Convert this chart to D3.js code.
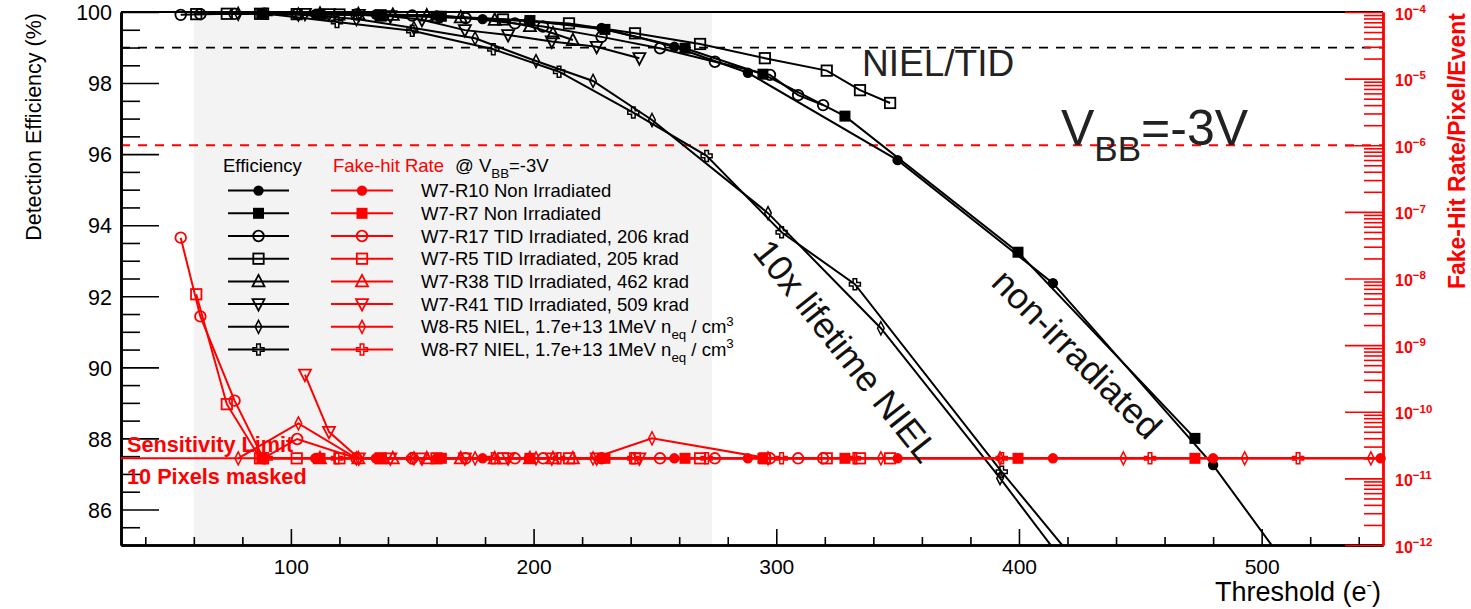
<!DOCTYPE html>
<html>
<head>
<meta charset="utf-8">
<script src="https://cdn.jsdelivr.net/npm/d3@7"></script>
<style>
  html, body { margin: 0; padding: 0; background: #fff; }
  svg { display: block; font-family: "Liberation Sans", Arial, Helvetica, sans-serif; }
</style>
</head>
<body>
<svg id="chart" width="1471" height="609"></svg>
<script>
// ---------------- data ----------------
// thresholds (e-), detection efficiency (%), fake-hit rate (/pixel/event)
const thrW7R10 = [88, 110, 135, 160, 179, 198, 228, 258, 288.3, 350, 414, 480, 549];
const effW7R10 = [99.95, 99.94, 99.93, 99.9, 99.8, 99.75, 99.55, 99.02, 98.29, 95.83, 92.37, 87.25, 80.8];
const fhrW7R10 = [2e-11, 2e-11, 2e-11, 2e-11, 2e-11, 2e-11, 2e-11, 2e-11, 2e-11, 2e-11, 2e-11, 2e-11, 2e-11];

const thrW7R7 = [88, 112, 137, 162, 198.5, 229.4, 262.4, 294.5, 328.3, 399.6, 472.5];
const effW7R7 = [99.95, 99.94, 99.92, 99.88, 99.76, 99.51, 98.98, 98.25, 97.07, 93.24, 88.0];
const fhrW7R7 = [2e-11, 2e-11, 2e-11, 2e-11, 2e-11, 2e-11, 2e-11, 2e-11, 2e-11, 2e-11, 2e-11];

const thrW7R17 = [54.6, 62.7, 76.8, 88.6, 102.6, 127, 150, 172, 192.3, 203.9, 228, 252.1, 274.7, 297.4, 309, 319.3];
const effW7R17 = [99.92, 99.94, 99.95, 99.95, 99.94, 99.93, 99.9, 99.83, 99.68, 99.59, 99.3, 98.98, 98.6, 98.23, 97.66, 97.38];
const fhrW7R17 = [4.1e-8, 2.7e-9, 1.47e-10, 2e-11, 3.9e-11, 2e-11, 2e-11, 2e-11, 2e-11, 2e-11, 2e-11, 2e-11, 2e-11, 2e-11, 2e-11, 2e-11];

const thrW7R5 = [61, 73.6, 87.3, 102.4, 120, 137, 160, 187.4, 214.6, 241.8, 268.6, 295.3, 320.8, 334.5, 346.9];
const effW7R5 = [99.94, 99.95, 99.95, 99.94, 99.93, 99.9, 99.86, 99.79, 99.68, 99.4, 99.1, 98.7, 98.35, 97.8, 97.44];
const fhrW7R5 = [5.8e-9, 1.3e-10, 2e-11, 2e-11, 2e-11, 2e-11, 2e-11, 2e-11, 2e-11, 2e-11, 2e-11, 2e-11, 2e-11, 2e-11, 2e-11];

const thrW7R38 = [112, 127.8, 142, 156, 170, 184, 198.5, 208, 216.2];
const effW7R38 = [99.95, 99.94, 99.92, 99.9, 99.85, 99.78, 99.6, 99.4, 99.21];
const fhrW7R38 = [2e-11, 2e-11, 2e-11, 2e-11, 2e-11, 2e-11, 2e-11, 2e-11, 2e-11];

const thrW7R41 = [105.8, 115.7, 128, 141, 154, 171.7, 189.5, 207.5, 226, 243.6];
const effW7R41 = [99.95, 99.94, 99.92, 99.88, 99.78, 99.49, 99.35, 99.17, 99.02, 98.7];
const fhrW7R41 = [3.6e-10, 5e-11, 2e-11, 2e-11, 2e-11, 2e-11, 2e-11, 2e-11, 2e-11, 2e-11];

const thrW8R5 = [78.3, 103.1, 127, 150.7, 175.9, 201, 224.5, 248.8, 296.6, 343.1, 392.2, 443, 493, 545];
const effW8R5 = [99.95, 99.93, 99.8, 99.55, 99.26, 98.62, 98.06, 96.96, 94.34, 91.1, 86.88, 82.3, 77.8, 73.0];
const fhrW8R5 = [2e-11, 6.7e-11, 2e-11, 2e-11, 2e-11, 2e-11, 2e-11, 4e-11, 2e-11, 2e-11, 2e-11, 2e-11, 2e-11, 2e-11];

const thrW8R7 = [90, 119, 150, 183.4, 210.5, 241.1, 271.3, 302.2, 332.4, 392.9, 454, 515];
const effW8R7 = [99.95, 99.72, 99.47, 98.95, 98.32, 97.17, 95.95, 93.8, 92.34, 87.06, 82.0, 77.0];
const fhrW8R7 = [2e-11, 2e-11, 2e-11, 2e-11, 2e-11, 2e-11, 2e-11, 2e-11, 2e-11, 2e-11, 2e-11, 2e-11];

const seriesLabels = [
  "W7-R10 Non Irradiated",
  "W7-R7 Non Irradiated",
  "W7-R17 TID Irradiated, 206 krad",
  "W7-R5 TID Irradiated, 205 krad",
  "W7-R38 TID Irradiated, 462 krad",
  "W7-R41 TID Irradiated, 509 krad",
  "W8-R5 NIEL, 1.7e+13 1MeV n_{eq} / cm^{3}",
  "W8-R7 NIEL, 1.7e+13 1MeV n_{eq} / cm^{3}"
];
const seriesMarkers = ["fcircle", "fsquare", "ocircle", "osquare", "otri", "otrid", "odiam", "ocross"];

const xTickLabels = [100, 200, 300, 400, 500];
const yTickLabels = [86, 88, 90, 92, 94, 96, 98, 100];
const rTickExponents = [-12, -11, -10, -9, -8, -7, -6, -5, -4];

const sensitivityLimit = 2e-11;
const efficiencyRef = 99;
const fakeHitRef = 1e-6;
const shadedRange = [60, 273.5];

// ---------------- layout ----------------
const L = 121, R = 1383, T = 12, B = 545;
const svg = d3.select("#chart");
const x = d3.scaleLinear().domain([30, 550]).range([L, R]);
const y = d3.scaleLinear().domain([85, 100]).range([B, T]);
const yR = d3.scaleLog().domain([1e-12, 1e-4]).range([B, T]);

const series = seriesLabels.map((label, i) => ({
  label,
  marker: seriesMarkers[i],
  thr: [thrW7R10, thrW7R7, thrW7R17, thrW7R5, thrW7R38, thrW7R41, thrW8R5, thrW8R7][i],
  eff: [effW7R10, effW7R7, effW7R17, effW7R5, effW7R38, effW7R41, effW8R5, effW8R7][i],
  fhr: [fhrW7R10, fhrW7R7, fhrW7R17, fhrW7R5, fhrW7R38, fhrW7R41, fhrW8R5, fhrW8R7][i]
}));

// text with _{sub} and ^{sup} pieces
function rich(textSel, str, size, scale = 0.68) {
  const re = /([_^])\{([^}]*)\}/g;
  let last = 0, cur = 0, m;
  const add = (s, off, fs) => {
    textSel.append("tspan").attr("dy", off - cur).attr("font-size", fs).text(s);
    cur = off;
  };
  while ((m = re.exec(str)) !== null) {
    if (m.index > last) add(str.slice(last, m.index), 0, size);
    add(m[2], m[1] === "_" ? size * 0.32 : -size * 0.42, size * scale);
    last = re.lastIndex;
  }
  if (last < str.length) add(str.slice(last), 0, size);
}

// ROOT-like marker shapes
function marker(g, kind, color) {
  const sw = 1.8;
  switch (kind) {
    case "fcircle": g.append("circle").attr("r", 5.2).attr("fill", color); break;
    case "fsquare": g.append("rect").attr("x", -5.5).attr("y", -5.5).attr("width", 11).attr("height", 11).attr("fill", color); break;
    case "ocircle": g.append("circle").attr("r", 5.3).attr("fill", "none").attr("stroke", color).attr("stroke-width", sw); break;
    case "osquare": g.append("rect").attr("x", -5.2).attr("y", -5.2).attr("width", 10.4).attr("height", 10.4).attr("fill", "none").attr("stroke", color).attr("stroke-width", sw); break;
    case "otri": g.append("path").attr("d", "M0,-6.5L6,5L-6,5Z").attr("fill", "none").attr("stroke", color).attr("stroke-width", sw); break;
    case "otrid": g.append("path").attr("d", "M0,6.5L6,-5L-6,-5Z").attr("fill", "none").attr("stroke", color).attr("stroke-width", sw); break;
    case "odiam": g.append("path").attr("d", "M0,-6.5L3.3,0L0,6.5L-3.3,0Z").attr("fill", "none").attr("stroke", color).attr("stroke-width", 1.5); break;
    case "ocross": g.append("path").attr("d", "M-1.8,-5.5H1.8V-1.8H5.5V1.8H1.8V5.5H-1.8V1.8H-5.5V-1.8H-1.8Z").attr("fill", "none").attr("stroke", color).attr("stroke-width", 1.5); break;
  }
}

svg.append("defs").append("clipPath").attr("id", "plotArea")
  .append("rect").attr("x", L).attr("y", T).attr("width", R - L).attr("height", B - T);

// shaded threshold band
svg.append("rect")
  .attr("x", x(shadedRange[0])).attr("y", T)
  .attr("width", x(shadedRange[1]) - x(shadedRange[0])).attr("height", B - T)
  .attr("fill", "#f3f3f3");

// reference lines
svg.append("line").attr("x1", L).attr("x2", R).attr("y1", y(efficiencyRef)).attr("y2", y(efficiencyRef))
  .attr("stroke", "#000").attr("stroke-width", 1.8).attr("stroke-dasharray", "9,8");
svg.append("line").attr("x1", L).attr("x2", R).attr("y1", yR(fakeHitRef)).attr("y2", yR(fakeHitRef))
  .attr("stroke", "#ff0000").attr("stroke-width", 1.8).attr("stroke-dasharray", "9,8");

// ---------------- axes ----------------
const yMinor = d3.range(85, 100.01, 0.5).filter(v => v % 2 !== 0);
const xMinor = d3.range(40, 550, 20).filter(v => v % 100 !== 0);

const leftMinor = svg.append("g").attr("transform", `translate(${L},0)`)
  .call(d3.axisLeft(y).tickValues(yMinor).tickSize(-19).tickSizeOuter(0).tickFormat(""));
const leftAxis = svg.append("g").attr("transform", `translate(${L},0)`)
  .call(d3.axisLeft(y).tickValues(yTickLabels).tickSize(-38).tickSizeOuter(0).tickPadding(9).tickFormat(d3.format("d")));
leftAxis.selectAll("text").attr("font-size", 21.5).attr("fill", "#000").attr("dy", "0.36em").style("font-family", "inherit");

const bottomMinor = svg.append("g").attr("transform", `translate(0,${B})`)
  .call(d3.axisBottom(x).tickValues(xMinor).tickSize(-8).tickSizeOuter(0).tickFormat(""));
const bottomAxis = svg.append("g").attr("transform", `translate(0,${B})`)
  .call(d3.axisBottom(x).tickValues(xTickLabels).tickSize(-16).tickSizeOuter(0).tickPadding(14).tickFormat(d3.format("d")));
bottomAxis.selectAll("text").attr("font-size", 21).attr("fill", "#000").style("font-family", "inherit");

[leftMinor, leftAxis, bottomMinor, bottomAxis].forEach(a => {
  a.selectAll(".tick line").attr("stroke", "#000").attr("stroke-width", 1.6);
  a.select(".domain").attr("stroke", "#000").attr("stroke-width", 2.6);
});

// top frame edge
svg.append("line").attr("x1", L).attr("x2", R).attr("y1", T).attr("y2", T).attr("stroke", "#000").attr("stroke-width", 2.2);

// right log axis (fake-hit rate)
const rMinor = [];
rTickExponents.slice(0, -1).forEach(e => { for (let k = 2; k <= 9; k++) rMinor.push(k * Math.pow(10, e)); });
const rightMinor = svg.append("g").attr("transform", `translate(${R},0)`)
  .call(d3.axisRight(yR).tickValues(rMinor).tickSize(-19).tickSizeOuter(0).tickFormat(""));
const rightAxis = svg.append("g").attr("transform", `translate(${R},0)`)
  .call(d3.axisRight(yR).tickValues(rTickExponents.map(e => Math.pow(10, e))).tickSize(-38).tickSizeOuter(0).tickPadding(12).tickFormat(""));
[rightMinor, rightAxis].forEach(a => {
  a.selectAll(".tick line").attr("stroke", "#ff0000").attr("stroke-width", 1.6);
  a.select(".domain").attr("stroke", "#ff0000").attr("stroke-width", 2.4);
});
rightAxis.selectAll(".tick").each(function (d) {
  const e = Math.round(Math.log10(d));
  const t = d3.select(this).append("text").attr("x", 12).attr("y", 7)
    .attr("fill", "#ff0000").attr("font-weight", "bold").attr("text-anchor", "start");
  rich(t, `10^{\u2212${-e}}`, 16, 0.72);
});

// axis titles
svg.append("text")
  .attr("transform", `translate(41,${T + 1}) rotate(-90)`)
  .attr("text-anchor", "end").attr("font-size", 21.5).attr("fill", "#000")
  .text("Detection Efficiency (%)");
svg.append("text")
  .attr("transform", `translate(1465,${T + 1}) rotate(-90)`)
  .attr("text-anchor", "end").attr("font-size", 23).attr("font-weight", "bold").attr("fill", "#ff0000")
  .text("Fake-Hit Rate/Pixel/Event");
const xt = svg.append("text").attr("x", R - 2).attr("y", 601).attr("text-anchor", "end").attr("fill", "#000");
rich(xt, "Threshold (e^{-})", 27, 0.6);

// ---------------- data marks ----------------
const plot = svg.append("g");
const lineG = plot.append("g").attr("clip-path", "url(#plotArea)");
const effLine = d3.line().x(d => x(d[0])).y(d => y(d[1]));
const fhrLine = d3.line().x(d => x(d[0])).y(d => yR(d[1]));

// efficiency curves (black)
series.forEach(s => {
  const pts = s.thr.map((t, i) => [t, s.eff[i]]);
  lineG.append("path").attr("d", effLine(pts)).attr("fill", "none").attr("stroke", "#000").attr("stroke-width", 2);
  pts.filter(p => p[1] >= 85 && p[0] <= 550).forEach(p => {
    marker(plot.append("g").attr("transform", `translate(${x(p[0])},${y(p[1])})`), s.marker, "#000");
  });
});

// sensitivity limit of the fake-hit measurement
lineG.append("line").attr("x1", L).attr("x2", R).attr("y1", yR(sensitivityLimit)).attr("y2", yR(sensitivityLimit))
  .attr("stroke", "#ff0000").attr("stroke-width", 2);

// fake-hit curves (red)
series.forEach(s => {
  const pts = s.thr.map((t, i) => [t, s.fhr[i]]);
  lineG.append("path").attr("d", fhrLine(pts)).attr("fill", "none").attr("stroke", "#ff0000").attr("stroke-width", 2);
  pts.filter(p => p[0] <= 550).forEach(p => {
    marker(plot.append("g").attr("transform", `translate(${x(p[0])},${yR(p[1])})`), s.marker, "#ff0000");
  });
});

// ---------------- legend ----------------
const lg = svg.append("g");
const lgFont = 18.5;
lg.append("text").attr("x", 223).attr("y", 172).attr("font-size", lgFont).attr("fill", "#000").text("Efficiency");
lg.append("text").attr("x", 333).attr("y", 172).attr("font-size", lgFont).attr("fill", "#ff0000").text("Fake-hit Rate");
rich(lg.append("text").attr("x", 455).attr("y", 172).attr("fill", "#000"), "@ V_{BB}=-3V", lgFont, 0.72);

series.forEach((s, i) => {
  const cy = 190.6 + i * 22.7;
  lg.append("line").attr("x1", 228).attr("x2", 289).attr("y1", cy).attr("y2", cy).attr("stroke", "#000").attr("stroke-width", 2);
  marker(lg.append("g").attr("transform", `translate(258.5,${cy})`), s.marker, "#000");
  lg.append("line").attr("x1", 331).attr("x2", 393).attr("y1", cy).attr("y2", cy).attr("stroke", "#ff0000").attr("stroke-width", 2);
  marker(lg.append("g").attr("transform", `translate(362,${cy})`), s.marker, "#ff0000");
  rich(lg.append("text").attr("x", 421).attr("y", cy + 6.6).attr("fill", "#000"), s.label, lgFont, 0.72);
});

// ---------------- annotations ----------------
svg.append("text").attr("x", 862).attr("y", 76).attr("font-size", 37).attr("fill", "#222").text("NIEL/TID");
rich(svg.append("text").attr("x", 1061).attr("y", 145).attr("fill", "#222"), "V_{BB}=-3V", 50, 0.7);
svg.append("text").attr("transform", "translate(846,351) rotate(51.5)")
  .attr("text-anchor", "middle").attr("dominant-baseline", "central")
  .attr("font-size", 36).attr("fill", "#111").text("10x lifetime NIEL");
svg.append("text").attr("transform", "translate(1077,354) rotate(45)")
  .attr("text-anchor", "middle").attr("dominant-baseline", "central")
  .attr("font-size", 36).attr("fill", "#111").text("non-irradiated");
svg.append("text").attr("x", 127).attr("y", 452).attr("font-size", 21.7).attr("font-weight", "bold").attr("fill", "#ff0000").text("Sensitivity Limit");
svg.append("text").attr("x", 127).attr("y", 484).attr("font-size", 21.7).attr("font-weight", "bold").attr("fill", "#ff0000").text("10 Pixels masked");
</script>
</body>
</html>
